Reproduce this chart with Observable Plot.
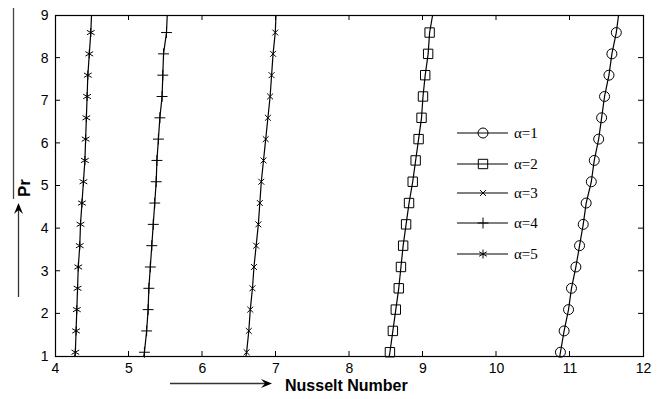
<!DOCTYPE html>
<html>
<head>
<meta charset="utf-8">
<script src="https://cdn.jsdelivr.net/npm/d3@7"></script>
<script src="https://cdn.jsdelivr.net/npm/@observablehq/plot@0.6"></script>
<style>
  html, body { margin: 0; padding: 0; background: #fff; }
  #chart { width: 662px; height: 399px; }
</style>
</head>
<body>
<div id="chart"></div>
<script>
// Pr values at which markers are drawn
const prMarkers = [1.1, 1.6, 2.1, 2.6, 3.1, 3.6, 4.1, 4.6, 5.1, 5.6, 6.1, 6.6, 7.1, 7.6, 8.1, 8.6];
// Nusselt number at each marker, per alpha
const nuAlpha1 = [10.87, 10.92, 10.98, 11.02, 11.08, 11.13, 11.18, 11.22, 11.29, 11.33, 11.39, 11.43, 11.47, 11.53, 11.57, 11.63];
const nuAlpha2 = [8.55, 8.59, 8.63, 8.67, 8.70, 8.73, 8.77, 8.81, 8.86, 8.90, 8.94, 8.98, 9.00, 9.03, 9.07, 9.09];
const nuAlpha3 = [6.60, 6.63, 6.65, 6.68, 6.70, 6.73, 6.76, 6.78, 6.80, 6.83, 6.86, 6.89, 6.92, 6.94, 6.96, 6.99];
const nuAlpha4 = [5.21, 5.24, 5.26, 5.27, 5.29, 5.31, 5.33, 5.35, 5.37, 5.38, 5.40, 5.42, 5.45, 5.46, 5.47, 5.51];
const nuAlpha5 = [4.27, 4.28, 4.29, 4.30, 4.31, 4.33, 4.34, 4.36, 4.38, 4.40, 4.41, 4.42, 4.43, 4.44, 4.46, 4.48];
// line end values (at Pr = 1 and Pr = 9)
const prEnds = [1, 9];
const nuStart = [10.86, 8.54, 6.59, 5.20, 4.26];
const nuEnd = [11.66, 9.13, 7.00, 5.52, 4.49];
const seriesNames = ["α=1", "α=2", "α=3", "α=4", "α=5"];
const seriesSymbols = ["circle", "square", "times", "plus", "asterisk"];
const seriesRadius = [5, 5.3, 2.8, 3.6, 4.2];
const xTicks = [4, 5, 6, 7, 8, 9, 10, 11, 12];
const yTicks = [1, 2, 3, 4, 5, 6, 7, 8, 9];

const nuSeries = [nuAlpha1, nuAlpha2, nuAlpha3, nuAlpha4, nuAlpha5];
const markerData = [];
const lineData = [];
nuSeries.forEach((vals, s) => {
  lineData.push({s, pr: prEnds[0], nu: nuStart[s]});
  vals.forEach((v, i) => {
    markerData.push({s, pr: prMarkers[i], nu: v});
    lineData.push({s, pr: prMarkers[i], nu: v});
  });
  lineData.push({s, pr: prEnds[1], nu: nuEnd[s]});
});

const W = 662, H = 399;
const mL = 55, mR = 19, mT = 15, mB = 43;
const fontTick = "Liberation Sans, Arial, sans-serif";

const marks = [
  Plot.axisX({anchor: "bottom", ticks: xTicks, tickSize: 0, tickPadding: 7, label: null,
    fontSize: 14, fill: "#000"}),
  Plot.axisY({anchor: "left", ticks: yTicks, tickSize: 0, tickPadding: 7, label: null,
    fontSize: 14, fill: "#000"}),
  Plot.frame({stroke: "#000", strokeWidth: 1.2}),
  ...nuSeries.map((_, s) => Plot.line(lineData.filter(d => d.s === s), {
    x: "nu", y: "pr", stroke: "#000", strokeWidth: 1.2
  })),
  ...nuSeries.map((_, s) => Plot.dot(markerData.filter(d => d.s === s), {
    x: "nu", y: "pr", symbol: () => seriesSymbols[s], r: seriesRadius[s],
    stroke: "#000", strokeWidth: 1, fill: "none"
  }))
];

const plot = Plot.plot({
  width: W, height: H,
  marginLeft: mL, marginRight: mR, marginTop: mT, marginBottom: mB,
  style: {fontFamily: fontTick, fontSize: "14px", color: "#000", background: "#fff", overflow: "visible"},
  x: {domain: [4, 12], ticks: xTicks},
  y: {domain: [1, 9], ticks: yTicks},
  marks
});
document.getElementById("chart").appendChild(plot);

// inward ticks on all four sides, drawn from the plot scales
const svg = d3.select(plot);
const sx = plot.scale("x"), sy = plot.scale("y");
const g = svg.append("g").attr("stroke", "#000").attr("stroke-width", 1);
const tl = 5;
xTicks.slice(1, -1).forEach(t => {
  const x = sx.apply(t);
  g.append("line").attr("x1", x).attr("x2", x).attr("y1", H - mB).attr("y2", H - mB - tl);
  g.append("line").attr("x1", x).attr("x2", x).attr("y1", mT).attr("y2", mT + tl);
});
yTicks.slice(1, -1).forEach(t => {
  const y = sy.apply(t);
  g.append("line").attr("y1", y).attr("y2", y).attr("x1", mL).attr("x2", mL + tl);
  g.append("line").attr("y1", y).attr("y2", y).attr("x1", W - mR).attr("x2", W - mR - tl);
});

// axis titles with arrows
const ann = svg.append("g");
ann.append("line").attr("x1", 13.5).attr("x2", 13.5).attr("y1", 8).attr("y2", 199)
  .attr("stroke", "#444").attr("stroke-width", 1.3);
ann.append("line").attr("x1", 18.5).attr("x2", 18.5).attr("y1", 297).attr("y2", 208)
  .attr("stroke", "#333").attr("stroke-width", 1.3);
ann.append("path").attr("d", "M18.5,203 L14,214 L18.5,210 L23,214 Z").attr("fill", "#000");
ann.append("text").attr("transform", "translate(30,188) rotate(-90)")
  .attr("text-anchor", "middle").attr("font-family", fontTick).attr("font-weight", "bold")
  .attr("font-size", 17).attr("fill", "#000").text("Pr");

ann.append("line").attr("x1", 170).attr("x2", 267).attr("y1", 383.5).attr("y2", 383.5)
  .attr("stroke", "#333").attr("stroke-width", 1.3);
ann.append("path").attr("d", "M272,383.5 L261,379 L265,383.5 L261,388 Z").attr("fill", "#000");
ann.append("text").attr("x", 285).attr("y", 391).attr("text-anchor", "start")
  .attr("font-family", fontTick).attr("font-weight", "bold")
  .attr("font-size", 16).attr("fill", "#000").text("Nusselt Number");

// legend
const leg = svg.append("g");
const legY = [133, 164, 193, 223, 254];
const symMap = {circle: d3.symbolCircle, square: d3.symbolSquare, times: d3.symbolTimes,
  plus: d3.symbolPlus, asterisk: d3.symbolAsterisk};
seriesNames.forEach((name, s) => {
  const y = legY[s];
  leg.append("line").attr("x1", 457).attr("x2", 508).attr("y1", y).attr("y2", y)
    .attr("stroke", "#000").attr("stroke-width", 1.2);
  const r = seriesRadius[s];
  leg.append("path").attr("transform", `translate(483,${y})`)
    .attr("d", d3.symbol(symMap[seriesSymbols[s]], Math.PI * r * r)())
    .attr("fill", "none").attr("stroke", "#000").attr("stroke-width", 1);
  leg.append("text").attr("x", 514).attr("y", y + 5).attr("text-anchor", "start")
    .attr("font-family", "Liberation Serif, Times New Roman, serif")
    .attr("font-size", 15).attr("fill", "#000").text(name);
});
</script>
</body>
</html>
